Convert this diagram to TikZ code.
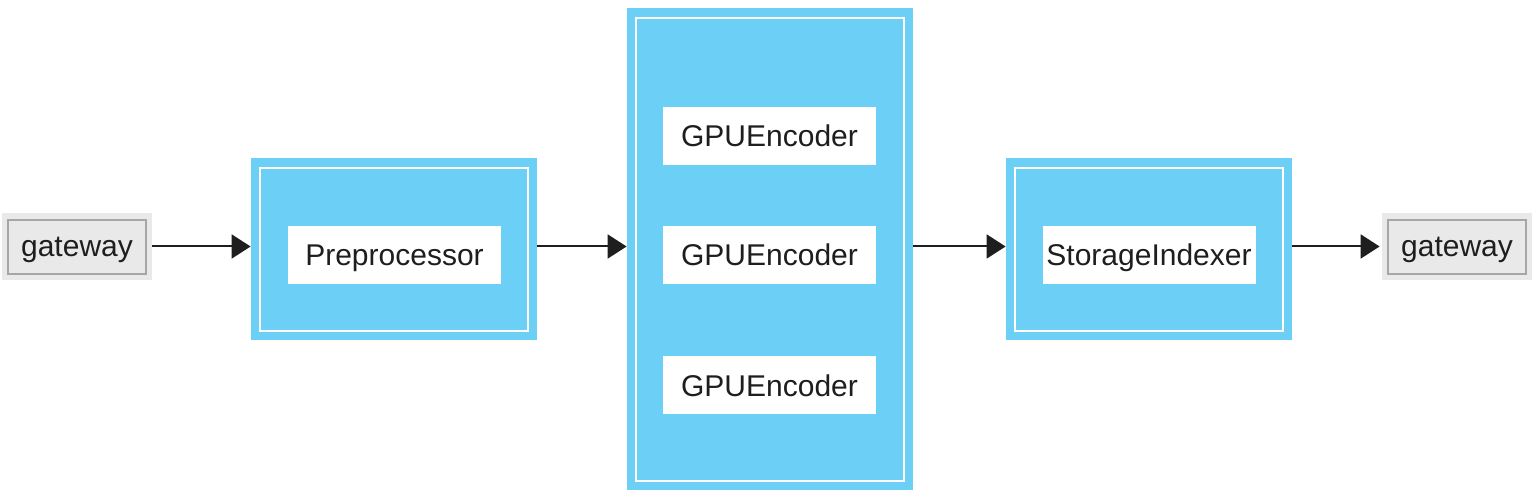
\documentclass[tikz,border=0pt]{standalone}
\usepackage{fontspec}
\setmainfont{Liberation Sans}
\usetikzlibrary{arrows.meta}
\definecolor{stageblue}{RGB}{108,207,246}
\definecolor{gwgray}{RGB}{233,233,233}
\definecolor{inkgray}{RGB}{30,30,30}

\begin{document}
\begin{tikzpicture}[x=0.5pt, y=-0.5pt,
  stage/.style={fill=stageblue, inner sep=0pt, minimum width=143pt},
  frame/.style={draw=white, line width=0.6pt, inner sep=0pt, minimum width=134pt},
  taskbox/.style={fill=white, inner sep=0pt, minimum width=106.5pt, minimum height=29pt, text depth=0pt, text=inkgray, font=\fontsize{15}{18}\selectfont},
  gwouter/.style={fill=gwgray, inner sep=0pt, minimum width=75pt, minimum height=33.5pt},
  gwinner/.style={fill=gwgray, draw=gray!70, line width=0.6pt, inner sep=0pt, minimum width=69pt, minimum height=27pt, text depth=0pt, text=inkgray, font=\fontsize{15}{18}\selectfont},
  flow/.style={-{Triangle[length=9.5pt,width=12pt]}, line width=1pt, draw=inkgray}]

  \useasboundingbox (0,0) rectangle (1536,496);

  % gateway in
  \node [gwouter] (gwl) at (77,246.5) {};
  \node [gwinner] (gwlin) at (77,247) {gateway};

  % preprocessor stage
  \node [stage, minimum height=91pt] (pre) at (394,249) {};
  \node [frame, minimum height=81.5pt] (preframe) at (394,249.5) {};
  \node [taskbox] (pretask) at (394.5,255) {Preprocessor};

  % encoder stage
  \node [stage, minimum height=241pt] (gpu) at (770,249) {};
  \node [frame, minimum height=231.5pt] (gpuframe) at (770,249.5) {};
  \node [taskbox] (enc1) at (769.5,136) {GPUEncoder};
  \node [taskbox] (enc2) at (769.5,255) {GPUEncoder};
  \node [taskbox] (enc3) at (769.5,385.5) {GPUEncoder};

  % storage stage
  \node [stage, minimum height=91pt] (sto) at (1149,249) {};
  \node [frame, minimum height=81.5pt] (stoframe) at (1149,249.5) {};
  \node [taskbox] (stotask) at (1149,255) {StorageIndexer};

  % gateway out
  \node [gwouter] (gwr) at (1457,246.5) {};
  \node [gwinner] (gwrin) at (1457,247) {gateway};

  \draw [flow] (gwl.east) -- (gwl -| pre.west);
  \draw [flow] (pre.east |- gwl) -- (gpu.west |- gwl);
  \draw [flow] (gpu.east |- gwl) -- (sto.west |- gwl);
  \draw [flow] (sto.east |- gwl) -- ([xshift=-1pt]gwr.west);
\end{tikzpicture}
\end{document}
